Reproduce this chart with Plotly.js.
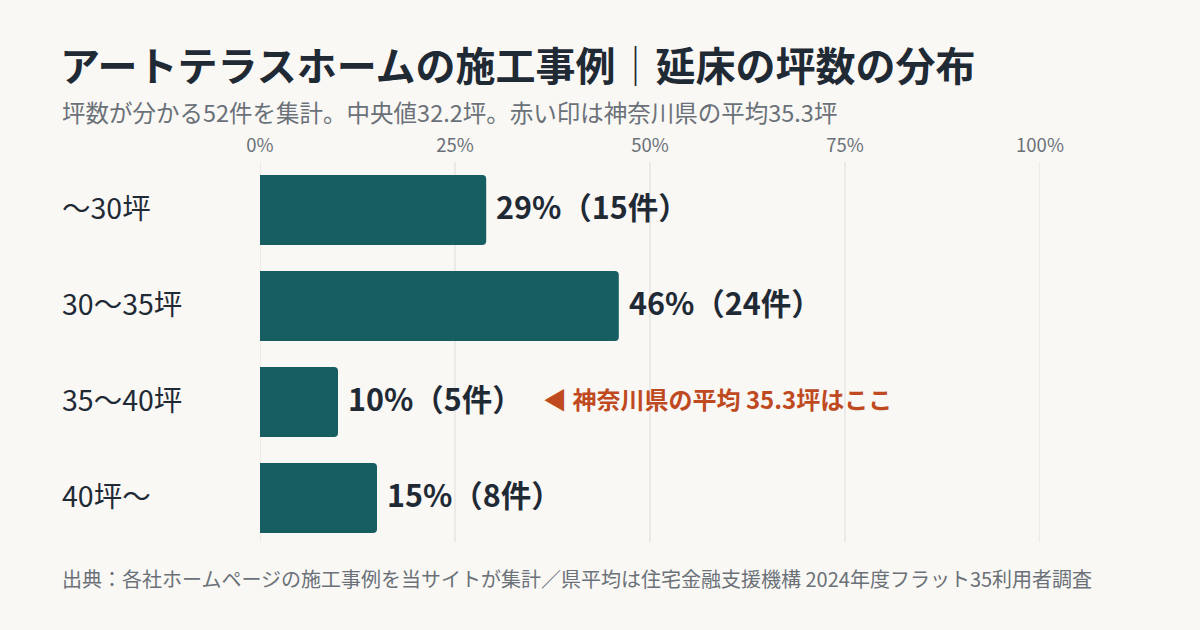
<!DOCTYPE html>
<html>
<head>
<meta charset="utf-8">
<script src="https://cdn.plot.ly/plotly-3.0.1.min.js"></script>
<style>
  html, body { margin: 0; padding: 0; background: #f9f8f5; }
  #chart { width: 1200px; height: 630px; }
</style>
</head>
<body>
<div id="chart"></div>
<script>
'use strict'
/* global Plotly */

// floor-area bins (tsubo) and the share of the 52 examples in each
const categories = ['～30坪', '30～35坪', '35～40坪', '40坪～']
const percents = [29, 46, 10, 15]
const counts = [15, 24, 5, 8]
const xTicks = [0, 25, 50, 75, 100]
const avgBinIndex = 2  // 県平均 35.3坪 falls in the 35～40 bin
const avgLabel = '◀ 神奈川県の平均 35.3坪はここ'

const FONT = '"Noto Sans CJK JP", "Noto Sans", sans-serif'
const DARK = '#1f2a35'
const GRAY = '#6b7178'
const BAR = '#175e63'
const ACCENT = '#bf4a1f'
const GRID = '#dddcd7'

// plot area in pixels (used only to place page-level text)
const W = 1200
const H = 630
const M = {l: 260, r: 160, t: 162, b: 84}
const pw = W - M.l - M.r
const ph = H - M.t - M.b
function px (x) { return (x - M.l) / pw }
function py (y) { return (H - M.b - y) / ph }

const trace = {
  type: 'bar',
  orientation: 'h',
  x: percents,
  y: categories,
  width: 0.73,
  marker: {color: BAR, cornerradius: 4},
  hoverinfo: 'skip'
}

const annotations = []

// left-aligned category labels
categories.forEach(function (c) {
  annotations.push({
    xref: 'paper', yref: 'y', x: px(60), y: c, yshift: 4,
    xanchor: 'left', yanchor: 'middle', showarrow: false,
    text: c, font: {family: FONT, size: 28.5, color: DARK}
  })
})

// value labels after each bar
percents.forEach(function (p, i) {
  annotations.push({
    xref: 'x', yref: 'y', x: p, y: categories[i],
    xanchor: 'left', yanchor: 'middle', showarrow: false, xshift: 8, yshift: 4,
    text: '<b>' + p + '%（' + counts[i] + '件）</b>',
    font: {family: FONT, size: 30.5, color: DARK}
  })
})

// prefecture average marker
annotations.push({
  xref: 'x', yref: 'y', x: 36.0, y: categories[avgBinIndex], yshift: 4,
  xanchor: 'left', yanchor: 'middle', showarrow: false,
  text: '<b>' + avgLabel + '</b>',
  font: {family: FONT, size: 24, color: ACCENT}
})

// subtitle and source line
annotations.push({
  xref: 'paper', yref: 'paper', x: px(60), y: py(112),
  xanchor: 'left', yanchor: 'middle', showarrow: false,
  text: '坪数が分かる52件を集計。中央値32.2坪。赤い印は神奈川県の平均35.3坪',
  font: {family: FONT, size: 23.5, color: GRAY}
})
annotations.push({
  xref: 'paper', yref: 'paper', x: px(60), y: py(578),
  xanchor: 'left', yanchor: 'middle', showarrow: false,
  text: '出典：各社ホームページの施工事例を当サイトが集計／県平均は住宅金融支援機構 2024年度フラット35利用者調査',
  font: {family: FONT, size: 20, color: GRAY}
})

// gridlines as shapes so the 0% and 100% edges are drawn too
const shapes = xTicks.map(function (v) {
  return {
    type: 'line', layer: 'below',
    xref: 'x', yref: 'paper',
    x0: v, x1: v, y0: 0.01, y1: 1,
    line: {color: GRID, width: 1}
  }
})

const layout = {
  width: W,
  height: H,
  margin: M,
  paper_bgcolor: '#f9f8f5',
  plot_bgcolor: '#f9f8f5',
  showlegend: false,
  font: {family: FONT, color: DARK},
  title: {
    text: '<b>アートテラスホームの施工事例</b>｜<b>延床の坪数の分布</b>',
    font: {family: FONT, size: 40, color: DARK},
    xref: 'container', yref: 'container',
    x: 60 / W, xanchor: 'left',
    y: 1 - 67 / H, yanchor: 'middle'
  },
  xaxis: {
    side: 'top',
    range: [0, 100],
    tickvals: xTicks,
    ticktext: xTicks.map(function (v) { return v + '%' }),
    tickfont: {family: FONT, size: 18.5, color: GRAY},
    ticks: '',
    ticklabelstandoff: 5,
    showgrid: false,
    zeroline: false,
    showline: false,
    fixedrange: true
  },
  yaxis: {
    type: 'category',
    categoryorder: 'array',
    categoryarray: categories,
    range: [3.5, -0.5],
    showticklabels: false,
    showgrid: false,
    zeroline: false,
    showline: false,
    ticks: '',
    fixedrange: true
  },
  shapes: shapes,
  annotations: annotations
}

const config = {displaylogo: false, displayModeBar: false, staticPlot: true}

Plotly.newPlot('chart', [trace], layout, config)
</script>
</body>
</html>
